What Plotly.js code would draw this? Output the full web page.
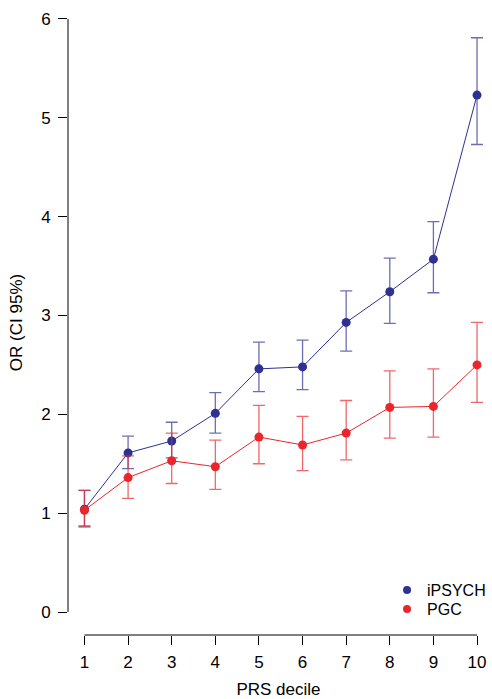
<!DOCTYPE html>
<html>
<head>
<meta charset="utf-8">
<script src="https://cdn.plot.ly/plotly-3.0.1.min.js"></script>
<style>html,body{margin:0;padding:0;background:#fff;}#chart{width:492px;height:699px;}</style>
</head>
<body>
<div id="chart"></div>
<script>
const deciles = [1, 2, 3, 4, 5, 6, 7, 8, 9, 10];
const ipsychOR   = [1.04, 1.61, 1.73, 2.01, 2.46, 2.48, 2.93, 3.24, 3.57, 5.23];
const ipsychLow  = [0.87, 1.45, 1.56, 1.81, 2.23, 2.25, 2.64, 2.92, 3.23, 4.73];
const ipsychHigh = [1.23, 1.78, 1.92, 2.22, 2.73, 2.75, 3.25, 3.58, 3.95, 5.81];
const pgcOR   = [1.03, 1.36, 1.53, 1.47, 1.77, 1.69, 1.81, 2.07, 2.08, 2.50];
const pgcLow  = [0.86, 1.15, 1.30, 1.24, 1.50, 1.43, 1.54, 1.76, 1.77, 2.12];
const pgcHigh = [1.23, 1.58, 1.81, 1.74, 2.09, 1.98, 2.14, 2.44, 2.46, 2.93];
const yTicks = [0, 1, 2, 3, 4, 5, 6];
const xTicks = deciles;

const BLUE = '#2e3192';
const RED = '#e8262b';
const FONT = 'Liberation Sans, Arial, Helvetica, sans-serif';

function diff(a, b) { return a.map((v, i) => v - b[i]); }

const traces = [
  {
    x: deciles, y: ipsychOR, type: 'scatter', mode: 'lines+markers', name: 'iPSYCH',
    showlegend: false,
    line: {color: BLUE, width: 1},
    marker: {color: BLUE, size: 9},
    error_y: {type: 'data', symmetric: false, array: diff(ipsychHigh, ipsychOR), arrayminus: diff(ipsychOR, ipsychLow),
      color: 'rgba(46,49,146,0.7)', thickness: 1.3, width: 6}
  },
  {
    x: deciles, y: pgcOR, type: 'scatter', mode: 'lines+markers', name: 'PGC',
    showlegend: false,
    line: {color: RED, width: 1},
    marker: {color: RED, size: 9},
    error_y: {type: 'data', symmetric: false, array: diff(pgcHigh, pgcOR), arrayminus: diff(pgcOR, pgcLow),
      color: 'rgba(232,38,43,0.7)', thickness: 1.3, width: 6}
  },
  {x: [null], y: [null], type: 'scatter', mode: 'markers', name: 'iPSYCH', legend: 'legend', marker: {color: BLUE, size: 8}},
  {x: [null], y: [null], type: 'scatter', mode: 'markers', name: 'PGC', legend: 'legend2', marker: {color: RED, size: 8}}
];

const legendCommon = {xanchor: 'left', yanchor: 'middle', bgcolor: 'rgba(0,0,0,0)',
  font: {family: FONT, size: 16, color: '#000'}, itemwidth: 30, borderwidth: 0};

const layout = {
  width: 492, height: 699,
  margin: {l: 68, r: 2, t: 10, b: 64},
  paper_bgcolor: '#fff', plot_bgcolor: '#fff',
  font: {family: FONT, size: 17, color: '#000'},
  showlegend: true,
  legend: Object.assign({x: 0.756, y: 0.0720}, legendCommon),
  legend2: Object.assign({x: 0.756, y: 0.0416}, legendCommon),
  xaxis: {
    range: [0.6226, 10.2745], showgrid: false, zeroline: false, showline: false,
    tickmode: 'array', tickvals: xTicks, ticktext: xTicks.map(String),
    ticks: 'outside', ticklen: 9, tickwidth: 1, tickcolor: '#000',
    tickfont: {family: FONT, size: 17}, ticklabelstandoff: 3,
    title: {text: 'PRS decile', font: {family: FONT, size: 17}, standoff: 13}
  },
  yaxis: {
    range: [-0.2327, 6.091], showgrid: false, zeroline: false, showline: false,
    tickmode: 'array', tickvals: yTicks, ticktext: yTicks.map(String),
    ticks: 'outside', ticklen: 9, tickwidth: 1, tickcolor: '#000',
    tickfont: {family: FONT, size: 17}, ticklabelstandoff: 4,
    title: {text: 'OR (CI 95%)', font: {family: FONT, size: 17}, standoff: 14}
  },
  shapes: [
    {type: 'line', xref: 'x', yref: 'paper', x0: xTicks[0], x1: xTicks[xTicks.length - 1], y0: 0, y1: 0,
      line: {color: '#000', width: 1}},
    {type: 'line', xref: 'paper', yref: 'y', x0: 0, x1: 0, y0: yTicks[0], y1: yTicks[yTicks.length - 1],
      line: {color: '#000', width: 1}}
  ]
};

Plotly.newPlot('chart', traces, layout, {displayModeBar: false, staticPlot: true});
</script>
</body>
</html>
